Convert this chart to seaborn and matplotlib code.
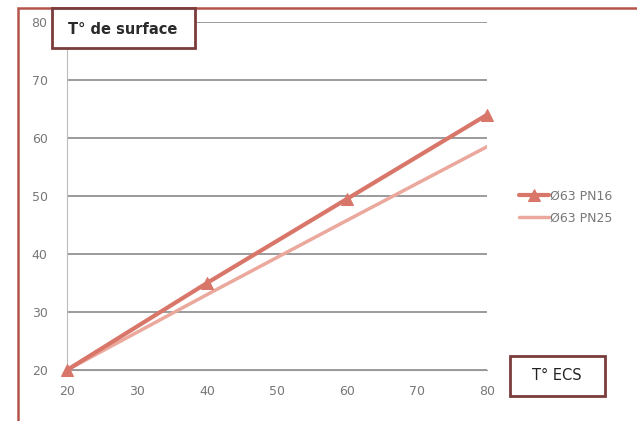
import seaborn as sns
import matplotlib.pyplot as plt
import matplotlib.patches as patches
import pandas as pd

# values
ecs_temp = [20, 40, 60, 80]
pn16_surface = [20, 35, 49.5, 64]
pn25_surface = [20, 33, 45.8, 58.5]
series_names = ["Ø63 PN16", "Ø63 PN25"]

df = pd.DataFrame({
    "ECS": ecs_temp * 2,
    "Surface": pn16_surface + pn25_surface,
    "Serie": [series_names[0]] * 4 + [series_names[1]] * 4,
})

sns.set_style("white")
plt.rcParams["font.family"] = ["DejaVu Sans"]

W, H = 637, 421
fig = plt.figure(figsize=(6.37, 4.21), dpi=100)
ax = fig.add_axes([67 / W, 1 - 370 / H, 420 / W, 348 / H])

palette = {series_names[0]: "#d9766a", series_names[1]: "#eba89c"}
sns.lineplot(data=df[df["Serie"] == series_names[1]], x="ECS", y="Surface",
             color=palette[series_names[1]], linewidth=2.5, ax=ax,
             label=series_names[1], zorder=3)
sns.lineplot(data=df[df["Serie"] == series_names[0]], x="ECS", y="Surface",
             color=palette[series_names[0]], linewidth=3, marker="^",
             markersize=9, markeredgecolor=palette[series_names[0]],
             ax=ax, label=series_names[0], zorder=4, clip_on=False)

ax.set_xlim(20, 80)
ax.set_ylim(20, 80)
ax.set_xticks(range(20, 81, 10))
ax.set_yticks(range(20, 81, 10))
ax.grid(axis="y", color="#8a8a8a", linewidth=1.2)
ax.set_xlabel("")
ax.set_ylabel("")
ax.tick_params(colors="#777777", labelsize=9, length=3)
ax.tick_params(axis="x", direction="in", pad=11)
ax.tick_params(axis="y", length=0, pad=14)
for s in ["top", "right"]:
    ax.spines[s].set_visible(False)
ax.spines["left"].set_color("#bbbbbb")
ax.spines["bottom"].set_color("#999999")

handles, labels = ax.get_legend_handles_labels()
order = [labels.index(series_names[0]), labels.index(series_names[1])]
leg = ax.legend([handles[i] for i in order], [labels[i] for i in order],
                loc="center left", bbox_to_anchor=(1.05, 0.468), frameon=False,
                fontsize=9, handlelength=2.4, handletextpad=0.1,
                labelspacing=0.7)
for t in leg.get_texts():
    t.set_color("#777777")

# outer frame
fig.add_artist(patches.Rectangle((18 / W, -0.05), 1.1, 1 - 8 / H + 0.05,
                                 transform=fig.transFigure, fill=False,
                                 edgecolor="#b5554a", linewidth=1.8))

# label boxes
fig.add_artist(patches.Rectangle((52 / W, 1 - 48 / H), 143 / W, 40 / H,
                                 transform=fig.transFigure, facecolor="white",
                                 edgecolor="#7a3b3b", linewidth=2, zorder=5))
fig.text(123 / W, 1 - 29 / H, "T° de surface", ha="center", va="center",
         fontsize=10.5, fontweight="bold", color="#2b2b2b", zorder=6)
fig.add_artist(patches.Rectangle((510 / W, 1 - 396 / H), 95 / W, 40 / H,
                                 transform=fig.transFigure, facecolor="white",
                                 edgecolor="#7a3b3b", linewidth=2, zorder=5))
fig.text(557 / W, 1 - 376 / H, "T° ECS", ha="center", va="center",
         fontsize=10.5, color="#222222", zorder=6)

fig.savefig("out.png", dpi=100)
